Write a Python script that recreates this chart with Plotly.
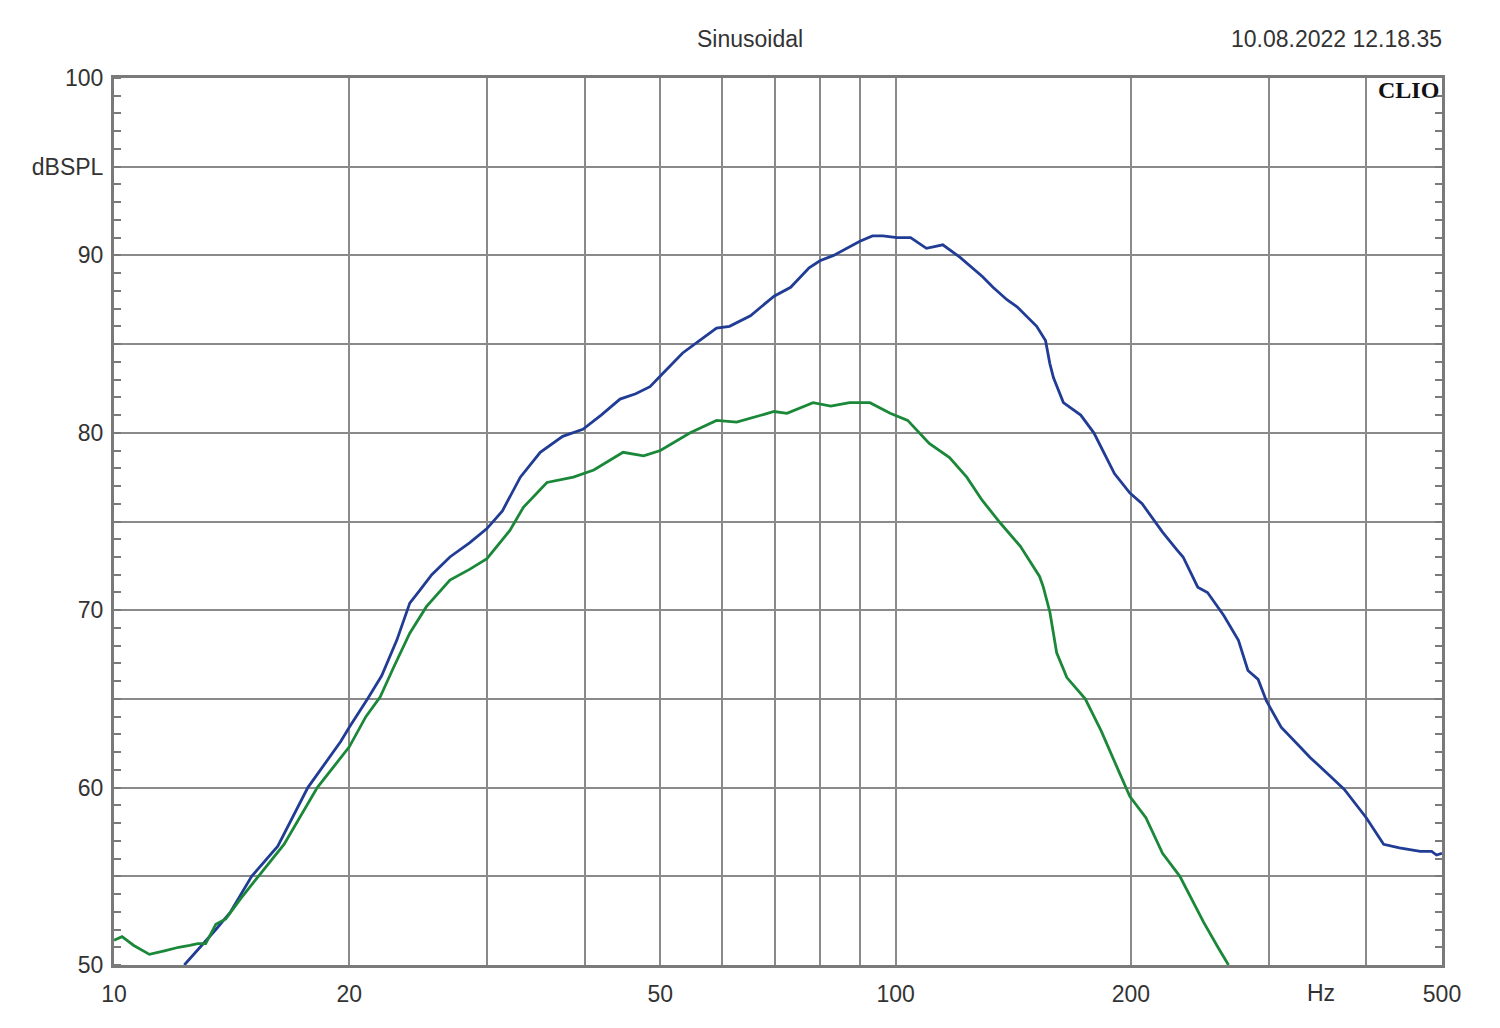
import math
import plotly.graph_objects as go

# ---- data ----
blue_freq = [12.3, 13.5, 14.1, 15.0, 16.2, 17.7, 19.5, 20.0, 21.1, 22.0, 23.0, 23.9, 24.6, 25.5,
             26.9, 28.5, 30.0, 31.4, 33.1, 35.1, 37.5, 39.8, 42.0, 44.4, 46.5, 48.5, 50.5, 53.4,
             56.5, 59.0, 61.3, 65.2, 69.9, 73.4, 77.5, 80.0, 83.3, 90.0, 93.4, 96.3, 100.4, 104.5,
             109.5, 114.9, 120.8, 129.2, 133.2, 138.8, 143.0, 151.5, 155.5, 157.5, 159.2, 163.9,
             172.5, 179.3, 190.5, 199.4, 206.7, 219.5, 229.0, 233.2, 243.5, 250.6, 262.9, 274.5,
             282.3, 290.9, 298.0, 311.3, 329.0, 339.0, 358.7, 375.0, 400.0, 421.0, 441.0, 469.0,
             485.0, 492.0, 500.0]
blue_db = [50.0, 52.0, 53.0, 55.0, 56.7, 60.0, 62.6, 63.4, 65.0, 66.3, 68.3, 70.4, 71.1, 72.0,
           73.0, 73.8, 74.6, 75.6, 77.5, 78.9, 79.8, 80.2, 81.0, 81.9, 82.2, 82.6, 83.4, 84.5,
           85.3, 85.9, 86.0, 86.6, 87.7, 88.2, 89.3, 89.7, 90.0, 90.8, 91.1, 91.1, 91.0, 91.0,
           90.4, 90.6, 89.9, 88.8, 88.2, 87.5, 87.1, 86.0, 85.2, 83.9, 83.1, 81.7,
           81.0, 80.0, 77.7, 76.6, 76.0, 74.4, 73.4, 73.0, 71.3, 71.0, 69.7, 68.3,
           66.6, 66.1, 64.9, 63.4, 62.3, 61.7, 60.7, 59.9, 58.3, 56.8, 56.6, 56.4,
           56.4, 56.2, 56.3]

green_freq = [10.0, 10.24, 10.6, 11.1, 11.6, 12.1, 12.5, 12.8, 13.1, 13.5, 13.9, 14.5, 15.3, 16.5,
              18.2, 19.5, 20.0, 21.0, 21.9, 22.8, 23.9, 25.1, 26.9, 28.5, 30.0, 32.1, 33.4, 35.8,
              38.7, 41.1, 44.8, 47.6, 50.0, 54.6, 59.0, 62.6, 69.9, 72.6, 78.4, 82.6, 87.3, 92.7,
              98.4, 103.6, 110.4, 117.2, 123.3, 129.0, 136.2, 144.4, 152.8, 154.5, 157.5, 160.7,
              165.6, 174.8, 183.2, 192.6, 199.4, 209.0, 219.5, 231.0, 240.7, 247.8, 258.4, 266.6]
green_db = [51.4, 51.6, 51.1, 50.6, 50.8, 51.0, 51.1, 51.2, 51.2, 52.3, 52.6, 53.7, 55.0, 56.8,
            60.0, 61.7, 62.3, 64.0, 65.1, 66.8, 68.7, 70.2, 71.7, 72.3, 72.9, 74.5, 75.8, 77.2,
            77.5, 77.9, 78.9, 78.7, 79.0, 80.0, 80.7, 80.6, 81.2, 81.1, 81.7, 81.5, 81.7, 81.7,
            81.1, 80.7, 79.4, 78.6, 77.5, 76.2, 74.9, 73.6, 71.9, 71.3, 69.9, 67.6,
            66.2, 65.0, 63.2, 61.0, 59.5, 58.3, 56.3, 55.0, 53.5, 52.4, 51.0, 50.0]

x_tickvals = [10, 20, 30, 40, 50, 60, 70, 80, 90, 100, 200, 300, 400, 500]
x_ticktext = ["10", "20", "", "", "50", "", "", "", "", "100", "200", "", "", "500"]
y_tickvals = [50, 55, 60, 65, 70, 75, 80, 85, 90, 95, 100]
y_ticktext = ["50", "", "60", "", "70", "", "80", "", "90", "dBSPL", "100"]

title_text = "Sinusoidal"
date_text = "10.08.2022 12.18.35"
brand_text = "CLIO"
x_unit = "Hz"

FONT = "Liberation Sans, Arial, sans-serif"
FS = 23
TXT = "#333333"
GRID = "#8a8a8a"
FRAME = "#7a7a7a"

fig = go.Figure()
fig.add_trace(go.Scatter(x=blue_freq, y=blue_db, mode="lines",
                         line=dict(color="#213c94", width=2.8), showlegend=False))
fig.add_trace(go.Scatter(x=green_freq, y=green_db, mode="lines",
                         line=dict(color="#1a8838", width=2.8), showlegend=False))
# invisible trace for the right-hand axis (minor ticks)
fig.add_trace(go.Scatter(x=[10, 500], y=[50, 100], mode="lines", yaxis="y2",
                         line=dict(width=0), hoverinfo="skip", showlegend=False, opacity=0))

fig.update_layout(
    width=1500, height=1028,
    margin=dict(l=114, r=58, t=78, b=63),
    paper_bgcolor="white", plot_bgcolor="white",
    font=dict(family=FONT, size=FS, color=TXT),
    xaxis=dict(type="log", range=[1, math.log10(500)],
               tickmode="array", tickvals=x_tickvals, ticktext=x_ticktext,
               showgrid=True, gridcolor=GRID, gridwidth=1.6,
               showline=True, linecolor=FRAME, linewidth=3, mirror=True,
               ticks="", ticklabelstandoff=6, zeroline=False,
               tickfont=dict(family=FONT, size=FS, color=TXT)),
    yaxis=dict(range=[50, 100],
               tickmode="array", tickvals=y_tickvals, ticktext=y_ticktext,
               showgrid=True, gridcolor=GRID, gridwidth=1.6,
               showline=True, linecolor=FRAME, linewidth=3, mirror=True,
               ticks="", ticklabelstandoff=3, zeroline=False,
               minor=dict(dtick=1, tick0=50, ticks="inside", ticklen=7,
                          tickcolor=FRAME, tickwidth=1.5, showgrid=False),
               tickfont=dict(family=FONT, size=FS, color=TXT)),
    yaxis2=dict(range=[50, 100], overlaying="y", side="right",
                showgrid=False, showticklabels=False, ticks="", zeroline=False,
                showline=False,
                minor=dict(dtick=1, tick0=50, ticks="inside", ticklen=7,
                           tickcolor=FRAME, tickwidth=1.5, showgrid=False)),
)

def px_x(x):
    return (x - 114) / (1442 - 114)

def px_y(y):
    return (965 - y) / (965 - 78)

ann = [
    dict(text=title_text, x=px_x(750), y=px_y(39), xref="paper", yref="paper",
         showarrow=False, xanchor="center", yanchor="middle",
         font=dict(family=FONT, size=FS, color=TXT)),
    dict(text=date_text, x=px_x(1444), y=px_y(39), xref="paper", yref="paper",
         showarrow=False, xanchor="right", yanchor="middle",
         font=dict(family=FONT, size=FS, color=TXT)),
    dict(text="<b>" + brand_text + "</b>", x=px_x(1441), y=px_y(90), xref="paper", yref="paper",
         showarrow=False, xanchor="right", yanchor="middle",
         font=dict(family="Liberation Serif, Times New Roman, serif", size=24, color="#111111")),
    dict(text=x_unit, x=px_x(1321), y=px_y(993), xref="paper", yref="paper",
         showarrow=False, xanchor="center", yanchor="middle",
         font=dict(family=FONT, size=FS, color=TXT)),
]
fig.update_layout(annotations=ann)

fig.write_html("out.html")
